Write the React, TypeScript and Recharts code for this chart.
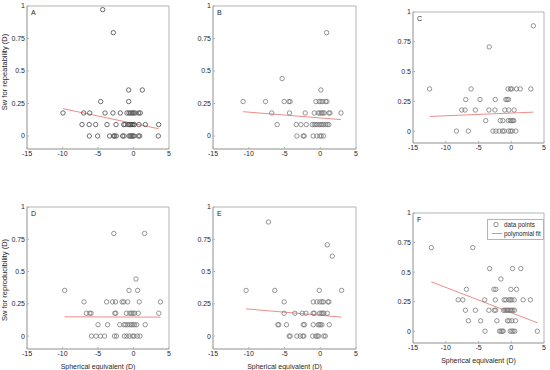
import React from 'react';
import { ComposedChart, Scatter, XAxis, YAxis, ReferenceLine, ReferenceArea, Legend } from 'recharts';

const xTicks = [-15, -10, -5, 0, 5];
const yTicks = [0, 0.25, 0.5, 0.75, 1];
const xLabel = 'Spherical equivalent (D)';
const yLabelTop = 'Sw for repeatability (D)';
const yLabelBottom = 'Sw for reproducibility (D)';
const letters = ['A', 'B', 'C', 'D', 'E', 'F'];
const legendNames = ['data points', 'polynomial fit'];

// Panel A
const aX = [-4.34, -2.84, -4.62, -0.68, 1.24, -0.68,
  -9.93, -7.02, -6.17, -4.01, -2.89, -1.86, -0.92, -0.63, -0.4, -0.16, 0.02, 0.26, 0.73, 0.96,
  -7.25, -6.24, -5.33, -3.73, -2.46, -1.38, -1.2, -0.77, -0.59, -0.4, -0.21, -0.07, 0.12, 0.77, 1.67, 3.54,
  -6.22, -5.05, -3.36, -2.8, -2.65, -2.42, -1.53, -1.34, -0.63, -0.45, -0.26, -0.07, 0.07, 0.68, 0.87, 3.5];
const aY = [0.972, 0.795, 0.265, 0.354, 0.354, 0.265,
  0.177, 0.177, 0.177, 0.177, 0.177, 0.177, 0.177, 0.177, 0.177, 0.177, 0.177, 0.177, 0.177, 0.177,
  0.088, 0.088, 0.088, 0.088, 0.088, 0.088, 0.088, 0.088, 0.088, 0.088, 0.088, 0.088, 0.088, 0.088, 0.088, 0.088,
  0, 0, 0, 0, 0, 0, 0, 0, 0, 0, 0, 0, 0, 0, 0, 0];
const aFit = [[-9.93, 0.21], [3.54, 0.056]];

// Panel B
const bX = [0.89, -5.33, 0.09,
  -10.79, -7.66, -5.05, -4.39, -4.21, -0.61, -0.14, 0.09, 0.33, 0.75, 0.93,
  -6.78, -4.3, -2.1, -0.84, -0.28, -0.05, 0.19, 0.37, 0.56, 1.21, 1.36, 2.9,
  -6.03, -3.36, -2.71, -1.96, -1.12, -0.84, -0.61, -0.42, -0.14, 0.09, 0.28, 0.47, 0.75, 0.98, 1.21,
  -3.27, -2.38, -2.24, -0.98, -0.47, -0.05, 0.14, 0.47];
const bY = [0.795, 0.442, 0.354,
  0.265, 0.265, 0.265, 0.265, 0.265, 0.265, 0.265, 0.265, 0.265, 0.265, 0.265,
  0.177, 0.177, 0.177, 0.177, 0.177, 0.177, 0.177, 0.177, 0.177, 0.177, 0.177, 0.177,
  0.088, 0.088, 0.088, 0.088, 0.088, 0.088, 0.088, 0.088, 0.088, 0.088, 0.088, 0.088, 0.088, 0.088, 0.088,
  0, 0, 0, 0, 0, 0, 0, 0];
const bFit = [[-10.79, 0.187], [2.9, 0.126]];

// Panel C
const cX = [3.38, -3.36,
  -12.47, -6.14, -0.47, -0.11, 0.09, 0.8, 1.36, 2.98,
  -6.95, -4.77, -2.44, -0.82, -0.62, -0.42,
  -7.56, -7.05, -5.48, -3.41, -2.49, -0.98, -0.37, 0.44,
  -3.9, -1.68, -1.28, -0.47, -0.16, 0.04, 0.24, 0.39,
  -8.37, -6.55, -2.8, -2.34, -1.84, -1.33, -1.08, -0.42, -0.11, 0.14, 0.7];
const cY = [0.884, 0.707,
  0.354, 0.354, 0.354, 0.354, 0.354, 0.354, 0.354, 0.354,
  0.265, 0.265, 0.265, 0.265, 0.265, 0.265,
  0.177, 0.177, 0.177, 0.177, 0.177, 0.177, 0.177, 0.177,
  0.088, 0.088, 0.088, 0.088, 0.088, 0.088, 0.088, 0.088,
  0, 0, 0, 0, 0, 0, 0, 0, 0, 0, 0];
const cFit = [[-12.47, 0.123], [3.38, 0.159]];

// Panel D
const dX = [-2.77, 1.56, 0.35,
  -9.7, -0.63, 0.58,
  -6.97, -3.79, -2.95, -2.53, -1.6, -1.37, -0.81, 0.81, 3.79,
  -6.63, -6.16, -5.98, -2.63, -2.49, -1.0, -0.53, -0.3, -0.07, 0.16, 0.67, 3.56,
  -5.0, -3.65, -1.93, -1.33, -1.1, -0.81, -0.53, -0.3, -0.07, 0.16, 0.44, 1.65,
  -5.93, -5.28, -4.67, -4.07, -2.67, -2.4, -1.28, -0.95, -0.58, -0.12, 0.07, 0.53, 0.91];
const dY = [0.795, 0.795, 0.442,
  0.354, 0.354, 0.354,
  0.265, 0.265, 0.265, 0.265, 0.265, 0.265, 0.265, 0.265, 0.265,
  0.177, 0.177, 0.177, 0.177, 0.177, 0.177, 0.177, 0.177, 0.177, 0.177, 0.177, 0.177,
  0.088, 0.088, 0.088, 0.088, 0.088, 0.088, 0.088, 0.088, 0.088, 0.088, 0.088, 0.088,
  0, 0, 0, 0, 0, 0, 0, 0, 0, 0, 0, 0, 0];
const dFit = [[-9.7, 0.149], [3.79, 0.147]];

// Panel E
const eX = [-7.24, 0.98, 1.68,
  -10.37, -6.36, -0.14, 2.99,
  -5.05, -0.98, -0.47, -0.05, 0.23, 0.42, 1.07, 1.21,
  -5.05, -3.55, -2.52, -2.01, -0.98, -0.84, -0.09, 0.14, 0.33, 0.51, 0.98,
  -5.93, -5.79, -4.72, -2.38, -2.2, -0.98, -0.28, -0.14, 0.05, 0.23, 1.26,
  -4.35, -4.21, -3.27, -2.8, -2.43, -2.29, -1.07, -0.61, -0.42, -0.23, 0.51, 0.7];
const eY = [0.884, 0.707, 0.619,
  0.354, 0.354, 0.354, 0.354,
  0.265, 0.265, 0.265, 0.265, 0.265, 0.265, 0.265, 0.265,
  0.177, 0.177, 0.177, 0.177, 0.177, 0.177, 0.177, 0.177, 0.177, 0.177, 0.177,
  0.088, 0.088, 0.088, 0.088, 0.088, 0.088, 0.088, 0.088, 0.088, 0.088, 0.088,
  0, 0, 0, 0, 0, 0, 0, 0, 0, 0, 0, 0];
const eFit = [[-10.37, 0.211], [2.99, 0.147]];

// Panel F
const fX = [-12.2, -5.87, -3.3, 0.19, 1.46, -1.58,
  -6.84, -2.65, -2.35, -0.06, 0.8,
  -8.1, -7.39, -4.05, -2.43, -1.07, -0.82, -0.37, -0.16, 0.09, 0.44, 1.81, 2.92,
  -7.0, -5.48, -3.41, -2.6, -2.39, -1.18, -0.98, -0.77, -0.57, -0.37, -0.16, 0.04, 0.24, 0.49,
  -6.54, -4.67, -2.19, -0.57, -0.32, 0.09, 0.65,
  -4.01, -1.79, -1.58, -1.38, -1.23, -0.16, 0.09, 0.29, 0.54, 3.98];
const fY = [0.707, 0.707, 0.53, 0.53, 0.53, 0.442,
  0.354, 0.354, 0.354, 0.354, 0.354,
  0.265, 0.265, 0.265, 0.265, 0.265, 0.265, 0.265, 0.265, 0.265, 0.265, 0.265, 0.265,
  0.177, 0.177, 0.177, 0.177, 0.177, 0.177, 0.177, 0.177, 0.177, 0.177, 0.177, 0.177, 0.177, 0.177,
  0.088, 0.088, 0.088, 0.088, 0.088, 0.088, 0.088,
  0, 0, 0, 0, 0, 0, 0, 0, 0, 0];
const fFit = [[-12.2, 0.418], [3.98, 0.071]];

const FONT = '"Liberation Sans", Arial, Helvetica, sans-serif';
const TEXT = '#262626';
const FRAME = '#b4b4b4';
const FIT = '#ee8c8c';

type Box = { x0: number; y0: number; x1: number; y1: number };

const panels = [
  { xs: aX, ys: aY, fit: aFit, box: { x0: 27, y0: 6, x1: 169, y1: 149 }, ylab: yLabelTop, ylabCy: 72, xlab: false, mark: '#4a4a4a', legend: false },
  { xs: bX, ys: bY, fit: bFit, box: { x0: 213, y0: 6, x1: 356, y1: 149 }, ylab: '', ylabCy: 0, xlab: false, mark: '#7a7a7a', legend: false },
  { xs: cX, ys: cY, fit: cFit, box: { x0: 413, y0: 12, x1: 544, y1: 143 }, ylab: '', ylabCy: 0, xlab: false, mark: '#7a7a7a', legend: false },
  { xs: dX, ys: dY, fit: dFit, box: { x0: 27, y0: 207, x1: 169, y1: 349 }, ylab: yLabelBottom, ylabCy: 280, xlab: true, mark: '#7a7a7a', legend: false },
  { xs: eX, ys: eY, fit: eFit, box: { x0: 213, y0: 207, x1: 356, y1: 349 }, ylab: '', ylabCy: 0, xlab: true, mark: '#7a7a7a', legend: false },
  { xs: fX, ys: fY, fit: fFit, box: { x0: 413, y0: 213, x1: 544, y1: 343 }, ylab: '', ylabCy: 0, xlab: true, mark: '#7a7a7a', legend: true },
];

const YW = 30;
const MT = 6;
const MR = 4;

function LegendBox() {
  return (
    <svg width={57} height={21} style={{ display: 'block', fontFamily: FONT }}>
      <rect x={0.5} y={0.5} width={56} height={20} fill="#fff" stroke={FRAME} strokeWidth={1} />
      <circle cx={9} cy={5.5} r={2.2} fill="none" stroke="#7a7a7a" strokeWidth={0.8} />
      <text x={17} y={5.5} dy="0.35em" fontSize={6.3} fill={TEXT}>{legendNames[0]}</text>
      <line x1={5} x2={15} y1={14.5} y2={14.5} stroke={FIT} strokeWidth={1} />
      <text x={17} y={14.5} dy="0.35em" fontSize={6.3} fill={TEXT}>{legendNames[1]}</text>
    </svg>
  );
}

function Panel({ idx }: { idx: number }) {
  const p = panels[idx];
  const box: Box = p.box;
  const xh = p.xlab ? 24 : 14;
  const w = box.x1 - box.x0 + YW + MR;
  const h = box.y1 - box.y0 + MT + xh;
  const data = p.xs.map((x, i) => ({ x, y: p.ys[i] }));
  const color = p.mark;
  const shape = (props: any) => (
    <circle cx={props.cx} cy={props.cy} r={2.2} fill="none" stroke={color} strokeWidth={0.8} />
  );
  const localCy = p.ylabCy - (box.y0 - MT);
  const yLabelContent = (props: any) => {
    const vb = props.viewBox || { x: 0 };
    const lx = vb.x + 10;
    return (
      <text x={lx} y={localCy} transform={`rotate(-90, ${lx}, ${localCy})`} textAnchor="middle" fontSize={7.5} fill={TEXT} fontFamily={FONT}>
        {p.ylab}
      </text>
    );
  };
  return (
    <div style={{ position: 'absolute', left: box.x0 - YW, top: box.y0 - MT, width: w, height: h }}>
      <ComposedChart width={w} height={h} data={data} margin={{ top: MT, right: MR, bottom: 0, left: 0 }} style={{ fontFamily: FONT, overflow: 'visible' }}>
        <XAxis
          type="number"
          dataKey="x"
          domain={[-15, 5]}
          ticks={xTicks}
          allowDataOverflow
          height={xh}
          tickSize={-2}
          tickMargin={4}
          stroke={FRAME}
          tick={{ fontSize: 7, fill: TEXT }}
          label={p.xlab ? { value: xLabel, position: 'insideBottom', offset: 4, fontSize: 7, fill: TEXT } : undefined}
        />
        <YAxis
          type="number"
          dataKey="y"
          domain={[-0.1, 1]}
          ticks={yTicks}
          allowDataOverflow
          width={YW}
          tickSize={-2}
          tickMargin={4}
          stroke={FRAME}
          tick={{ fontSize: 7, fill: TEXT }}
          label={p.ylab ? { value: p.ylab, position: 'insideLeft', content: yLabelContent } : undefined}
        />
        <ReferenceArea
          x1={-15}
          x2={5}
          y1={-0.1}
          y2={1}
          fill="none"
          fillOpacity={0}
          stroke={FRAME}
          strokeWidth={1}
          label={{ value: letters[idx], position: 'insideTopLeft', offset: 4, fontSize: 7, fill: TEXT }}
        />
        <ReferenceLine
          segment={[{ x: p.fit[0][0], y: p.fit[0][1] }, { x: p.fit[1][0], y: p.fit[1][1] }]}
          stroke={FIT}
          strokeWidth={1}
        />
        <Scatter dataKey="y" name={legendNames[0]} isAnimationActive={false} shape={shape} />
        {p.legend ? (
          <Legend
            layout="vertical"
            align="center"
            verticalAlign="middle"
            content={() => <LegendBox />}
            wrapperStyle={{ position: 'absolute', left: 104, top: 12, width: 57, height: 21 }}
          />
        ) : null}
      </ComposedChart>
    </div>
  );
}

export default function App() {
  return (
    <div style={{ position: 'absolute', left: 0, top: 0, width: 550, height: 370, background: '#fff', overflow: 'hidden', fontFamily: FONT }}>
      {panels.map((_, i) => (
        <Panel key={i} idx={i} />
      ))}
    </div>
  );
}
